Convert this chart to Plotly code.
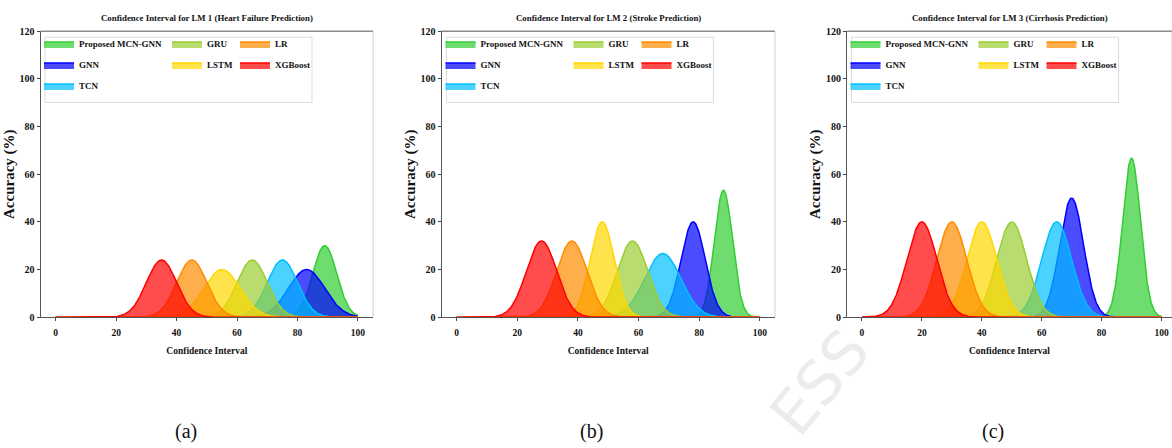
import numpy as np
import plotly.graph_objects as go

# ---------------- data ----------------
models = ["Proposed MCN-GNN", "GNN", "TCN", "GRU", "LSTM", "LR", "XGBoost"]
panel_titles = [
    "Confidence Interval for LM 1 (Heart Failure Prediction)",
    "Confidence Interval for LM 2 (Stroke Prediction)",
    "Confidence Interval for LM 3 (Cirrhosis Prediction)",
]
panel_labels = ["(a)", "(b)", "(c)"]

# centre of each model's interval curve (Confidence Interval axis)
centers_lm1 = [89, 83, 75, 65, 55, 45, 35]
centers_lm2 = [88, 78, 68, 58, 48, 38, 28]
centers_lm3 = [90, 70, 65, 50, 40, 30, 20]
# peak heights (Accuracy %)
peaks_lm1 = [30, 20, 24, 24, 20, 24, 24]
peaks_lm2 = [53.3, 40, 26.7, 32, 40, 32, 32]
peaks_lm3 = [66.7, 50, 40, 40, 40, 40, 40]
# spread (standard deviation) of each curve
spreads_lm1 = [4, 6, 5, 5, 6, 5, 5]
spreads_lm2 = [3, 4, 6, 5, 4, 5, 5]
spreads_lm3 = [3, 4, 5, 5, 5, 5, 5]

x_ticks = [0, 20, 40, 60, 80, 100]
y_ticks = [0, 20, 40, 60, 80, 100, 120]

# ---------------- styling ----------------
line_colors = ["#32cd32", "#0000ff", "#00bfff", "#9acd32", "#ffd700", "#ff8c00", "#ff0000"]
fill_colors = ["rgba(50,205,50,0.7)", "rgba(0,0,255,0.7)", "rgba(0,191,255,0.7)",
               "rgba(154,205,50,0.7)", "rgba(255,215,0,0.7)", "rgba(255,140,0,0.7)",
               "rgba(255,0,0,0.7)"]
legend_col = [0, 0, 0, 1, 1, 2, 2]

W, H = 1172, 448
FONT = "Liberation Serif, Times New Roman, serif"


def pxx(x):
    return x / W


def pxy(y):
    return 1 - y / H


# axis pixel extents (left, right) and x ranges
ax_px = [(40.6, 373.1), (441.5, 775.0), (847.0, 1172.0)]
x_ranges = [[-5, 105], [-5, 105], [-5, 103.5]]
box_px = [(45, 312), (446.5, 713.5), (851.5, 1118.5)]
y_top, y_bot = 27, 320

centers = [centers_lm1, centers_lm2, centers_lm3]
peaks = [peaks_lm1, peaks_lm2, peaks_lm3]
spreads = [spreads_lm1, spreads_lm2, spreads_lm3]

xgrid = np.linspace(0, 100, 600)

fig = go.Figure()
shapes = []
annotations = []
layout = {}

for p in range(3):
    xa = "x" if p == 0 else f"x{p + 1}"
    ya = "y" if p == 0 else f"y{p + 1}"
    for i, m in enumerate(models):
        yv = peaks[p][i] * np.exp(-((xgrid - centers[p][i]) ** 2) / (2 * spreads[p][i] ** 2))
        leg_idx = p * 3 + legend_col[i] + 1
        fig.add_trace(go.Scatter(
            x=xgrid, y=yv, mode="lines", name=m,
            line=dict(color=line_colors[i], width=1.5),
            fill="tozeroy", fillcolor=fill_colors[i],
            xaxis=xa, yaxis=ya,
            legend="legend" if leg_idx == 1 else f"legend{leg_idx}",
            legendgroup=f"p{p}_{i}",
            hoverinfo="skip",
        ))

    L, R = ax_px[p]
    xkey = "xaxis" if p == 0 else f"xaxis{p + 1}"
    ykey = "yaxis" if p == 0 else f"yaxis{p + 1}"
    layout[xkey] = dict(
        domain=[pxx(L), pxx(R)], range=x_ranges[p], anchor=ya,
        tickvals=x_ticks, ticks="outside", ticklen=3, tickcolor="#444",
        ticklabelstandoff=3,
        showline=True, linecolor="#555", linewidth=1.2, showgrid=False, zeroline=False,
        tickfont=dict(family=FONT, size=9.5, color="#111", weight="bold"),
        title=dict(text="Confidence Interval", standoff=10,
                   font=dict(family=FONT, size=9.5, color="#111", weight="bold")),
    )
    layout[ykey] = dict(
        domain=[pxy(y_bot), pxy(y_top)], range=[0, 120], anchor=xa,
        tickvals=y_ticks, ticks="outside", ticklen=3, tickcolor="#444",
        showline=True, linecolor="#555", linewidth=1.0, showgrid=False, zeroline=False,
        tickfont=dict(family=FONT, size=10, color="#111", weight="bold"),
        title=dict(text="Accuracy (%)", standoff=1,
                   font=dict(family=FONT, size=15, color="#111", weight="bold")),
    )
    # top and right spines (light)
    shapes.append(dict(type="line", xref=f"{xa} domain", yref=f"{ya} domain",
                       x0=0, x1=1, y0=1, y1=1, line=dict(color="#8a8a8a", width=1.5)))
    shapes.append(dict(type="line", xref=f"{xa} domain", yref=f"{ya} domain",
                       x0=1, x1=1, y0=0, y1=1, line=dict(color="#cfcfcf", width=1)))
    # legend frame
    bl, br = box_px[p]
    shapes.append(dict(type="rect", xref="paper", yref="paper",
                       x0=pxx(bl), x1=pxx(br), y0=pxy(100), y1=pxy(33),
                       line=dict(color="#dcdcdc", width=1), fillcolor="rgba(255,255,255,0.8)",
                       layer="above"))
    # legends (three columns)
    col_off = [-6, 122, 190]
    for c in range(3):
        idx = p * 3 + c + 1
        lkey = "legend" if idx == 1 else f"legend{idx}"
        layout[lkey] = dict(
            x=pxx(bl + col_off[c]), y=pxy(25), xanchor="left", yanchor="top",
            bgcolor="rgba(0,0,0,0)", borderwidth=0, tracegroupgap=2,
            font=dict(family=FONT, size=9, color="#111", weight="bold"),
        )
    # panel title
    annotations.append(dict(text=panel_titles[p], x=pxx((L + R) / 2), y=pxy(13),
                            xref="paper", yref="paper", showarrow=False,
                            xanchor="center", yanchor="middle",
                            font=dict(family=FONT, size=8.8, color="#111", weight="bold")))

# sub-figure labels
for lab, cx in zip(panel_labels, [186, 591, 993]):
    annotations.append(dict(text=lab, x=pxx(cx), y=pxy(437), xref="paper", yref="paper",
                            showarrow=False, xanchor="center", yanchor="middle",
                            font=dict(family=FONT, size=20, color="#111")))

# faint watermark fragment
annotations.append(dict(text="ESS", x=pxx(820), y=pxy(387), xref="paper", yref="paper",
                        showarrow=False, textangle=-50, xanchor="center", yanchor="middle",
                        font=dict(family="DejaVu Sans, sans-serif", size=60, color="#ececec")))

fig.update_layout(
    width=W, height=H, margin=dict(l=0, r=0, t=0, b=0),
    paper_bgcolor="white", plot_bgcolor="white",
    shapes=shapes, annotations=annotations, showlegend=True,
    **layout,
)

fig.write_html("out.html", config={"displayModeBar": False, "staticPlot": True},
               post_script="document.body.style.margin='0';document.body.style.overflow='hidden';")
